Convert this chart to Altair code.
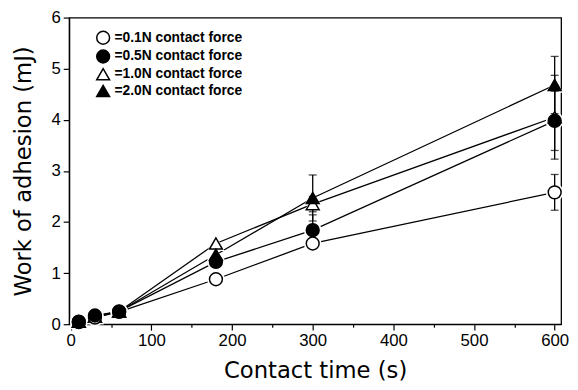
import altair as alt
import pandas as pd

times = [10, 30, 60, 180, 300, 600]
series_names = ["=0.1N contact force", "=0.5N contact force",
                "=1.0N contact force", "=2.0N contact force"]
work_01 = [0.04, 0.13, 0.24, 0.88, 1.58, 2.58]
work_05 = [0.05, 0.17, 0.25, 1.22, 1.84, 3.98]
work_10 = [0.05, 0.15, 0.25, 1.58, 2.35, 4.05]
work_20 = [0.05, 0.15, 0.25, 1.36, 2.47, 4.68]
err_01 = [0, 0, 0, 0, 0.08, 0.35]
err_05 = [0, 0, 0, 0, 0.30, 0.58]
err_10 = [0, 0, 0, 0, 0.15, 0.82]
err_20 = [0, 0, 0, 0, 0.45, 0.56]
draw_order = [2, 3, 0, 1]

shapes = ["circle", "circle", "triangle-up", "triangle-up"]
fills = ["white", "black", "white", "black"]

rows = []
for name, ws, es, z, shp in zip(series_names, [work_01, work_05, work_10, work_20],
                                [err_01, err_05, err_10, err_20], draw_order, shapes):
    for t, v, e in zip(times, ws, es):
        rows.append({"series": name, "time": t, "work": v, "err": e,
                     "lo": v - e, "hi": v + e, "z": z, "shp": shp})
df = pd.DataFrame(rows)
err_df = df[df["err"] > 0]

xscale = alt.Scale(domain=[-2, 608], nice=False, zero=False)
yscale = alt.Scale(domain=[0, 6], nice=False)
shape_scale = alt.Scale(domain=series_names, range=shapes)
fill_scale = alt.Scale(domain=series_names, range=fills)
stroke_scale = alt.Scale(domain=series_names, range=["black"] * 4)

x_axis = alt.Axis(
    title="Contact time (s)", values=list(range(0, 601, 50)),
    labelExpr="datum.value % 100 === 0 ? datum.label : ''",
    tickSize={"condition": {"test": "datum.value % 100 === 0", "value": 6}, "value": 3},
    labelOverlap=False, grid=False, labelPadding=3, titlePadding=11,
)
y_axis = alt.Axis(
    title="Work of adhesion (mJ)", values=[i / 2 for i in range(0, 13)],
    labelExpr="datum.value % 1 === 0 ? datum.label : ''",
    tickSize={"condition": {"test": "datum.value % 1 === 0", "value": 6}, "value": 3},
    labelOverlap=False, grid=False, labelPadding=3, titlePadding=16,
)

X = alt.X("time:Q", scale=xscale, axis=x_axis)
Y = alt.Y("work:Q", scale=yscale, axis=y_axis)

legend = alt.Legend(
    title=None, orient="none", legendX=27, legendY=13,
    labelFont="Liberation Sans", labelFontSize=14, labelFontWeight="bold",
    labelColor="black", symbolSize=170, symbolStrokeColor="black",
    symbolStrokeWidth=1.5, rowPadding=-2, labelOffset=4, padding=0,
)

lines = alt.Chart(df).mark_line(color="black", strokeWidth=1.3).encode(
    x=X, y=Y, detail="series:N")

halos = alt.Chart(df).mark_point(filled=True, color="white", opacity=1, size=320).encode(
    x=X, y=Y, shape=alt.Shape("shp:N", scale=None))

err_rules = alt.Chart(err_df).mark_rule(color="black", strokeWidth=1.3).encode(
    x=X, y=alt.Y("lo:Q", scale=yscale), y2="hi:Q")
cap_lo = alt.Chart(err_df).mark_tick(color="black", orient="horizontal", size=8, thickness=1.3).encode(
    x=X, y=alt.Y("lo:Q", scale=yscale))
cap_hi = alt.Chart(err_df).mark_tick(color="black", orient="horizontal", size=8, thickness=1.3).encode(
    x=X, y=alt.Y("hi:Q", scale=yscale))

points = alt.Chart(df).mark_point(strokeWidth=1.5, opacity=1,
                                  fillOpacity=1, size=170).encode(
    x=X, y=Y,
    shape=alt.Shape("series:N", scale=shape_scale, legend=legend),
    fill=alt.Fill("series:N", scale=fill_scale, legend=legend),
    stroke=alt.Stroke("series:N", scale=stroke_scale, legend=legend),
    order=alt.Order("z:Q"),
)

chart = alt.layer(lines, halos, err_rules, cap_lo, cap_hi, points).properties(
    width=499, height=311,
    autosize=alt.AutoSizeParams(type="none"),
    padding={"left": 62, "top": 7, "right": 9, "bottom": 63},
).configure_view(
    stroke="black", strokeWidth=1.3
).configure_axis(
    domainColor="black", domainWidth=1.3, tickColor="black", tickWidth=1.2,
    labelFont="Liberation Sans", labelFontSize=17, labelColor="black",
    titleFont="DejaVu Sans", titleFontSize=23, titleFontWeight="normal",
    titleColor="black",
)

chart.save("out.html", embed_options={"renderer": "svg", "actions": False})
